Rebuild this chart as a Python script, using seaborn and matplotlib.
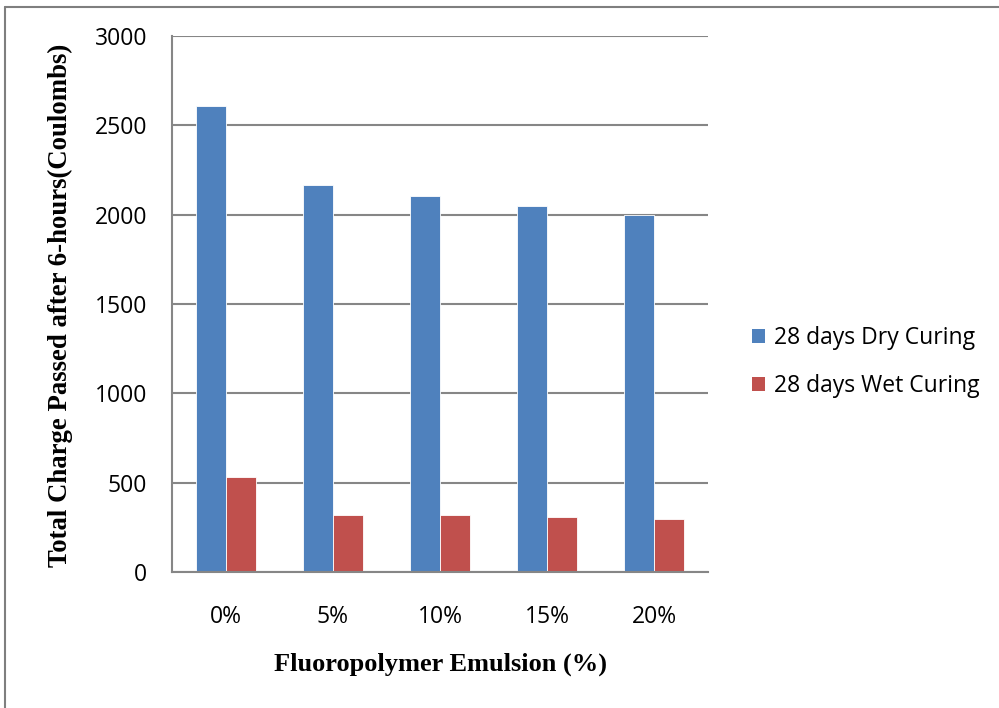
import matplotlib
matplotlib.use("Agg")
import matplotlib.pyplot as plt
from matplotlib.lines import Line2D
from matplotlib.patches import Patch
import seaborn as sns
import pandas as pd
import numpy as np

categories = ["0%", "5%", "10%", "15%", "20%"]
dry_curing = [2610, 2168, 2102, 2049, 2000]
wet_curing = [534, 321, 319, 305, 298]
series_names = ["28 days Dry Curing", "28 days Wet Curing"]
colors = ["#4F81BD", "#C0504D"]
y_ticks = [0, 500, 1000, 1500, 2000, 2500, 3000]

df = pd.DataFrame({
    "cat": categories * 2,
    "value": dry_curing + wet_curing,
    "series": [series_names[0]] * len(categories) + [series_names[1]] * len(categories),
})

sns.set_style("white")
plt.rcParams["font.family"] = ["Open Sans", "DejaVu Sans"]
plt.rcParams["text.color"] = "black"
plt.rcParams["xtick.color"] = "black"
plt.rcParams["ytick.color"] = "black"
plt.rcParams["axes.labelcolor"] = "black"

fig = plt.figure(figsize=(9.99, 7.08), dpi=100)
ax = fig.add_axes([0.1722, 0.1921, 0.7087 - 0.1722, 0.9492 - 0.1921])

sns.barplot(data=df, x="cat", y="value", hue="series", order=categories,
            hue_order=series_names, palette=colors, width=0.56, gap=0,
            errorbar=None, saturation=1, ax=ax, legend=False,
            edgecolor="white", linewidth=0.6)

grid_c = "#868686"
ax.set_ylim(0, 3000)
ax.set_xlim(-0.5, len(categories) - 0.5)
ax.set_yticks(y_ticks)
ax.set_yticklabels([str(t) for t in y_ticks], fontsize=16.5)
ax.yaxis.grid(True, color=grid_c, linewidth=1.5)
ax.set_axisbelow(True)

ax.set_xticks(range(len(categories)))
ax.set_xticklabels(categories, fontsize=16.5)
ax.set_xticks(np.arange(-0.5, len(categories), 1.0), minor=True)
ax.tick_params(axis="x", which="major", length=0, labelcolor="black", pad=24)
ax.tick_params(axis="x", which="minor", length=6, width=1.5, color=grid_c, direction="out")
ax.tick_params(axis="y", which="major", length=6, width=1.5, color=grid_c,
               labelcolor="black", direction="out", pad=12)

for side in ["top", "right"]:
    ax.spines[side].set_visible(False)
for side in ["left", "bottom"]:
    ax.spines[side].set_color(grid_c)
    ax.spines[side].set_linewidth(1.5)

ax.set_xlabel("Fluoropolymer Emulsion (%)", fontsize=19, fontweight="bold",
              family=["Liberation Serif"], color="black")
ax.set_ylabel("Total Charge Passed after 6-hours(Coulombs)", fontsize=19.3,
              fontweight="bold", family=["Liberation Serif"], color="black")
ax.yaxis.set_label_coords(-0.185, 0.497)
ax.xaxis.set_label_coords(0.5, -0.151)

handles = [Patch(facecolor=c, edgecolor="none") for c in colors]
fig.legend(handles, series_names, loc="center left", bbox_to_anchor=(0.753, 0.489),
           frameon=False, fontsize=16.5, handlelength=0.55, handleheight=0.55,
           handletextpad=0.4, labelspacing=1.05, borderpad=0, borderaxespad=0)

# outer frame lines
fig.add_artist(Line2D([5 / 999, 5 / 999], [0, 1 - 7 / 708], transform=fig.transFigure,
                      color="#7F7F7F", linewidth=1.5))
fig.add_artist(Line2D([5 / 999, 1], [1 - 7 / 708, 1 - 7 / 708], transform=fig.transFigure,
                      color="#7F7F7F", linewidth=1.5))

fig.savefig("out.png", dpi=100)
